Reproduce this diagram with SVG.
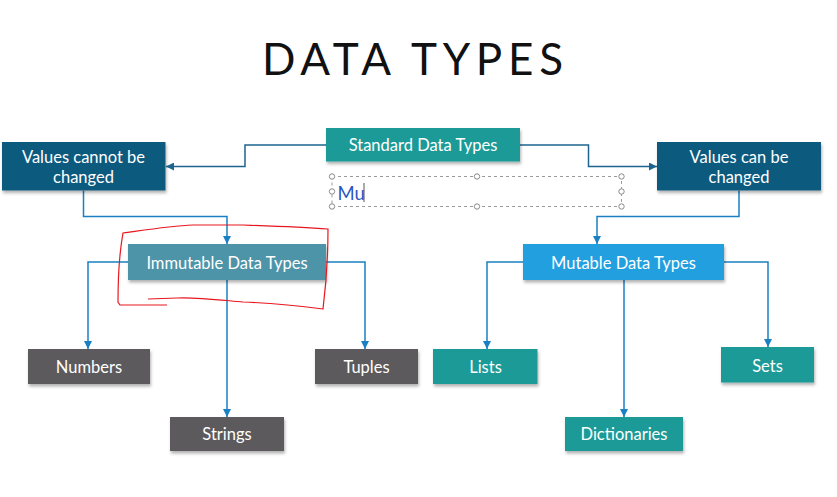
<svg xmlns="http://www.w3.org/2000/svg" width="837" height="497" viewBox="0 0 837 497">
<defs>
<style>
.lbl{font-family:Lato,"Open Sans","Liberation Sans",sans-serif;font-size:16.5px;fill:#ffffff;text-anchor:middle}
.box{filter:url(#sh)}
.c{fill:none;stroke:#1a80c4;stroke-width:1.5;marker-end:url(#ar)}
.cd{fill:none;stroke:#1d6590;stroke-width:1.5;marker-end:url(#ard)}
.h{fill:#ffffff;stroke:#8a8a8a;stroke-width:1}
</style>
<filter id="sh" x="-10%" y="-20%" width="120%" height="160%">
<feDropShadow dx="1" dy="2.5" stdDeviation="1.5" flood-color="#000" flood-opacity="0.3"/>
</filter>
<marker id="ar" markerUnits="userSpaceOnUse" markerWidth="8" markerHeight="8" refX="8" refY="4" orient="auto">
<path d="M0,0 L8,4 L0,8 z" fill="#1a80c4"/>
</marker>
<marker id="ard" markerUnits="userSpaceOnUse" markerWidth="8" markerHeight="8" refX="8" refY="4" orient="auto">
<path d="M0,0 L8,4 L0,8 z" fill="#1d6590"/>
</marker>
</defs>
<rect width="837" height="497" fill="#ffffff"/>
<text x="262" y="75" textLength="301" lengthAdjust="spacing" font-family="Lato,'DejaVu Sans',sans-serif" font-weight="400" font-size="44" fill="#111111">DATA TYPES</text>

<g id="connectors">
<path class="cd" d="M326,145 H245 V166.5 H166"/>
<path class="cd" d="M520,145 H588.5 V166.5 H657"/>
<path class="c" d="M83.5,190.5 V216.5 H227 V244"/>
<path class="c" d="M739,190.5 V216.5 H597 V244"/>
<path class="c" d="M128,262 H88 V349"/>
<path class="c" d="M326,262 H365 V349"/>
<path class="c" d="M227,280 V417"/>
<path class="c" d="M523,262 H487 V349"/>
<path class="c" d="M724,262 H768 V347"/>
<path class="c" d="M624,280 V417"/>
</g>

<g id="standard"><rect class="box" x="326" y="128" width="194" height="33.5" fill="#1b9a97"/><text class="lbl" x="423" y="151">Standard Data Types</text></g>
<g id="cannot"><rect class="box" x="2" y="142" width="163.5" height="48.5" fill="#0e5a7f"/><text class="lbl" x="83.5" y="162.5">Values cannot be</text><text class="lbl" x="83.5" y="182.5">changed</text></g>
<g id="can"><rect class="box" x="657" y="142" width="164" height="48.5" fill="#0e5a7f"/><text class="lbl" x="739" y="162.5">Values can be</text><text class="lbl" x="739" y="182.5">changed</text></g>
<g id="immutable"><rect class="box" x="128" y="244" width="198" height="36" fill="#4e94a9"/><text class="lbl" x="227" y="268.5">Immutable Data Types</text></g>
<g id="mutable"><rect class="box" x="523" y="244" width="201" height="36" fill="#239fdf"/><text class="lbl" x="623.5" y="268.5">Mutable Data Types</text></g>
<g id="numbers"><rect class="box" x="28" y="349" width="122" height="35" fill="#5b5a5c"/><text class="lbl" x="89" y="373">Numbers</text></g>
<g id="tuples"><rect class="box" x="315" y="349" width="103" height="35" fill="#5b5a5c"/><text class="lbl" x="366.5" y="373">Tuples</text></g>
<g id="strings"><rect class="box" x="170" y="417" width="114" height="34" fill="#5b5a5c"/><text class="lbl" x="227" y="439.5">Strings</text></g>
<g id="lists"><rect class="box" x="433" y="349" width="104.5" height="35" fill="#1b9a97"/><text class="lbl" x="485.5" y="373">Lists</text></g>
<g id="sets"><rect class="box" x="721" y="347" width="93" height="35.5" fill="#1b9a97"/><text class="lbl" x="767.5" y="371.5">Sets</text></g>
<g id="dictionaries"><rect class="box" x="565" y="417" width="118" height="34" fill="#1b9a97"/><text class="lbl" x="624" y="439.5">Dictionaries</text></g>

<g id="textbox">
<rect x="332" y="176.5" width="289.5" height="30" fill="none" stroke="#9a9a9a" stroke-width="1" stroke-dasharray="3,3"/>
<circle class="h" cx="332" cy="176.5" r="2.7"/>
<circle class="h" cx="477" cy="176.5" r="2.7"/>
<circle class="h" cx="621.5" cy="176.5" r="2.7"/>
<circle class="h" cx="332" cy="191.5" r="2.7"/>
<circle class="h" cx="621.5" cy="191.5" r="2.7"/>
<circle class="h" cx="332" cy="206.5" r="2.7"/>
<circle class="h" cx="477" cy="206.5" r="2.7"/>
<circle class="h" cx="621.5" cy="206.5" r="2.7"/>
<text x="337.5" y="199.5" font-family="Lato,'Open Sans',sans-serif" font-size="18.5" fill="#2a55c0">Mu</text>
<line x1="364" y1="183" x2="364" y2="202" stroke="#555555" stroke-width="1"/>
</g>

<path d="M167,305 L120,305 L118,302 C118,285 119,255 123,233 C145,230 170,226 193,225 L243,225 C270,226 300,227 328,229 C328,255 326,285 323,309 C300,306 270,303 243,302 C220,300 195,297 177,298 L148,299" fill="none" stroke="#e8161e" stroke-width="1.2"/>
</svg>
